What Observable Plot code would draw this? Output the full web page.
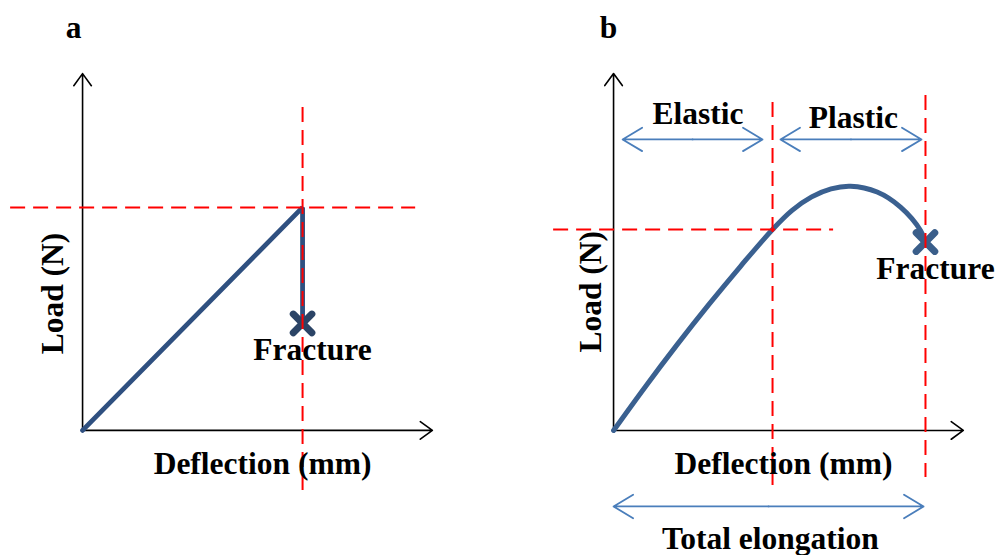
<!DOCTYPE html>
<html><head><meta charset="utf-8">
<script src="https://cdn.jsdelivr.net/npm/d3@7"></script>
<script src="https://cdn.jsdelivr.net/npm/@observablehq/plot@0.6"></script>
<style>
body{margin:0;background:#fff}
#wrap{display:flex;width:997px;height:555px;overflow:hidden}
</style>
</head><body><div id="wrap"></div>
<script>
// ---------- Panel a data (schematic units: fracture deflection = 1, peak load = 1)
const aCurveX = [0, 1, 1];
const aCurveY = [0, 1, 0.50];
const aFracture = {x: 1, y: 0.48};
const aAxisEnd = {x: 1.59, y: 1.60};
const aRefH = {y: 1, x1: -0.327, x2: 1.514};
const aRefV = {x: 1, y1: 1.448, y2: -0.269};
const aLabelText = ["a", "Fracture", "Deflection (mm)"];
const aLabelX = [-0.041, 1.045, 0.818];
const aLabelY = [1.807, 0.359, -0.152];
const aYLabel = {text: "Load (N)", x: -0.136, y: 0.614};

// ---------- Panel b data (schematic units: yield point = (1,1))
const bCurveX = [0, 0.2, 0.4, 0.6, 0.8, 1.0, 1.123, 1.246, 1.368, 1.491, 1.658, 1.805, 1.931, 1.962];
const bCurveY = [0, 0.218, 0.427, 0.627, 0.818, 1.0, 1.095, 1.162, 1.202, 1.215, 1.186, 1.111, 0.995, 0.937];
const bFracture = {x: 1.962, y: 0.937};
const bAxisEnd = {x: 2.20, y: 1.776};
const bRefH = {y: 1, x1: -0.377, x2: 1.384};
const bRefV = [{x: 1, y1: 1.632, y2: -0.274}, {x: 1.962, y1: 1.667, y2: -0.234}];
const bRangeName = ["Elastic", "Plastic", "Total elongation"];
const bRangeStart = [0.057, 1.05, 0];
const bRangeEnd = [0.937, 1.937, 1.95];
const bRangeArrowY = [1.448, 1.448, -0.378];
const bRangeLabelX = [0.531, 1.509, 0.987];
const bRangeLabelY = [1.577, 1.557, -0.54];
const bLabelText = ["b", "Fracture", "Deflection (mm)"];
const bLabelX = [-0.031, 2.025, 1.069];
const bLabelY = [2.005, 0.806, -0.164];
const bYLabel = {text: "Load (N)", x: -0.145, y: 0.69};

const font = "'Liberation Serif', 'Times New Roman', serif";
const RED = "#ff0000";
const DASH = "15,8";
const ARROWBLUE = "#4a7ebb";
const FS = 31.5;

function axisArrows(end) {
  return [
    Plot.arrow([{x1: 0, y1: 0, x2: end.x, y2: 0}], {x1: "x1", y1: "y1", x2: "x2", y2: "y2", stroke: "black", strokeWidth: 1.6, headLength: 14, headAngle: 72}),
    Plot.arrow([{x1: 0, y1: 0, x2: 0, y2: end.y}], {x1: "x1", y1: "y1", x2: "x2", y2: "y2", stroke: "black", strokeWidth: 1.6, headLength: 14, headAngle: 72})
  ];
}

function labels(texts, xs, ys, size) {
  const d = texts.map((t, i) => ({t, x: xs[i], y: ys[i]}));
  return Plot.text(d, {x: "x", y: "y", text: "t", fontSize: size, fontWeight: "bold", fontFamily: font, fill: "black"});
}

// ---------- Panel a
const aData = aCurveX.map((x, i) => ({x, y: aCurveY[i]}));
const plotA = Plot.plot({
  width: 497, height: 555, margin: 0,
  x: {axis: null, domain: [-0.373, 1.886]},
  y: {axis: null, domain: [-0.561, 1.928]},
  marks: [
    ...axisArrows(aAxisEnd),
    Plot.line(aData, {x: "x", y: "y", stroke: "#2f5080", strokeWidth: 4.8, strokeLinejoin: "miter"}),
    Plot.dot([aFracture], {x: "x", y: "y", symbol: "times", r: 8.5, stroke: "#2b4466", strokeWidth: 7, strokeLinecap: "round"}),
    Plot.ruleY([aRefH], {y: "y", x1: "x1", x2: "x2", stroke: RED, strokeWidth: 2, strokeDasharray: DASH}),
    Plot.ruleX([aRefV], {x: "x", y1: "y1", y2: "y2", stroke: RED, strokeWidth: 2, strokeDasharray: DASH}),
    labels(aLabelText, aLabelX, aLabelY, FS),
    Plot.text([aYLabel], {x: "x", y: "y", text: "text", rotate: -90, fontSize: FS, fontWeight: "bold", fontFamily: font, fill: "black"})
  ]
});

// ---------- Panel b
const bData = bCurveX.map((x, i) => ({x, y: bCurveY[i]}));
const rangeArrows = [];
bRangeName.forEach((n, i) => {
  const mid = (bRangeStart[i] + bRangeEnd[i]) / 2;
  rangeArrows.push({x1: mid, x2: bRangeStart[i], y: bRangeArrowY[i]});
  rangeArrows.push({x1: mid, x2: bRangeEnd[i], y: bRangeArrowY[i]});
});
const plotB = Plot.plot({
  width: 500, height: 555, margin: 0,
  x: {axis: null, domain: [-0.730, 2.415]},
  y: {axis: null, domain: [-0.622, 2.139]},
  marks: [
    ...axisArrows(bAxisEnd),
    Plot.line(bData, {x: "x", y: "y", curve: "catmull-rom", stroke: "#3a6090", strokeWidth: 5}),
    Plot.dot([bFracture], {x: "x", y: "y", symbol: "times", r: 8.5, stroke: "#3a5e8a", strokeWidth: 7, strokeLinecap: "round"}),
    Plot.ruleY([bRefH], {y: "y", x1: "x1", x2: "x2", stroke: RED, strokeWidth: 2, strokeDasharray: DASH}),
    Plot.ruleX(bRefV, {x: "x", y1: "y1", y2: "y2", stroke: RED, strokeWidth: 2, strokeDasharray: DASH}),
    Plot.arrow(rangeArrows, {x1: "x1", x2: "x2", y1: "y", y2: "y", stroke: ARROWBLUE, strokeWidth: 1.8, headLength: 19, headAngle: 62}),
    labels(bRangeName, bRangeLabelX, bRangeLabelY, FS),
    labels(bLabelText, bLabelX, bLabelY, FS),
    Plot.text([bYLabel], {x: "x", y: "y", text: "text", rotate: -90, fontSize: FS, fontWeight: "bold", fontFamily: font, fill: "black"})
  ]
});

document.getElementById("wrap").append(plotA, plotB);
</script>
</body></html>
